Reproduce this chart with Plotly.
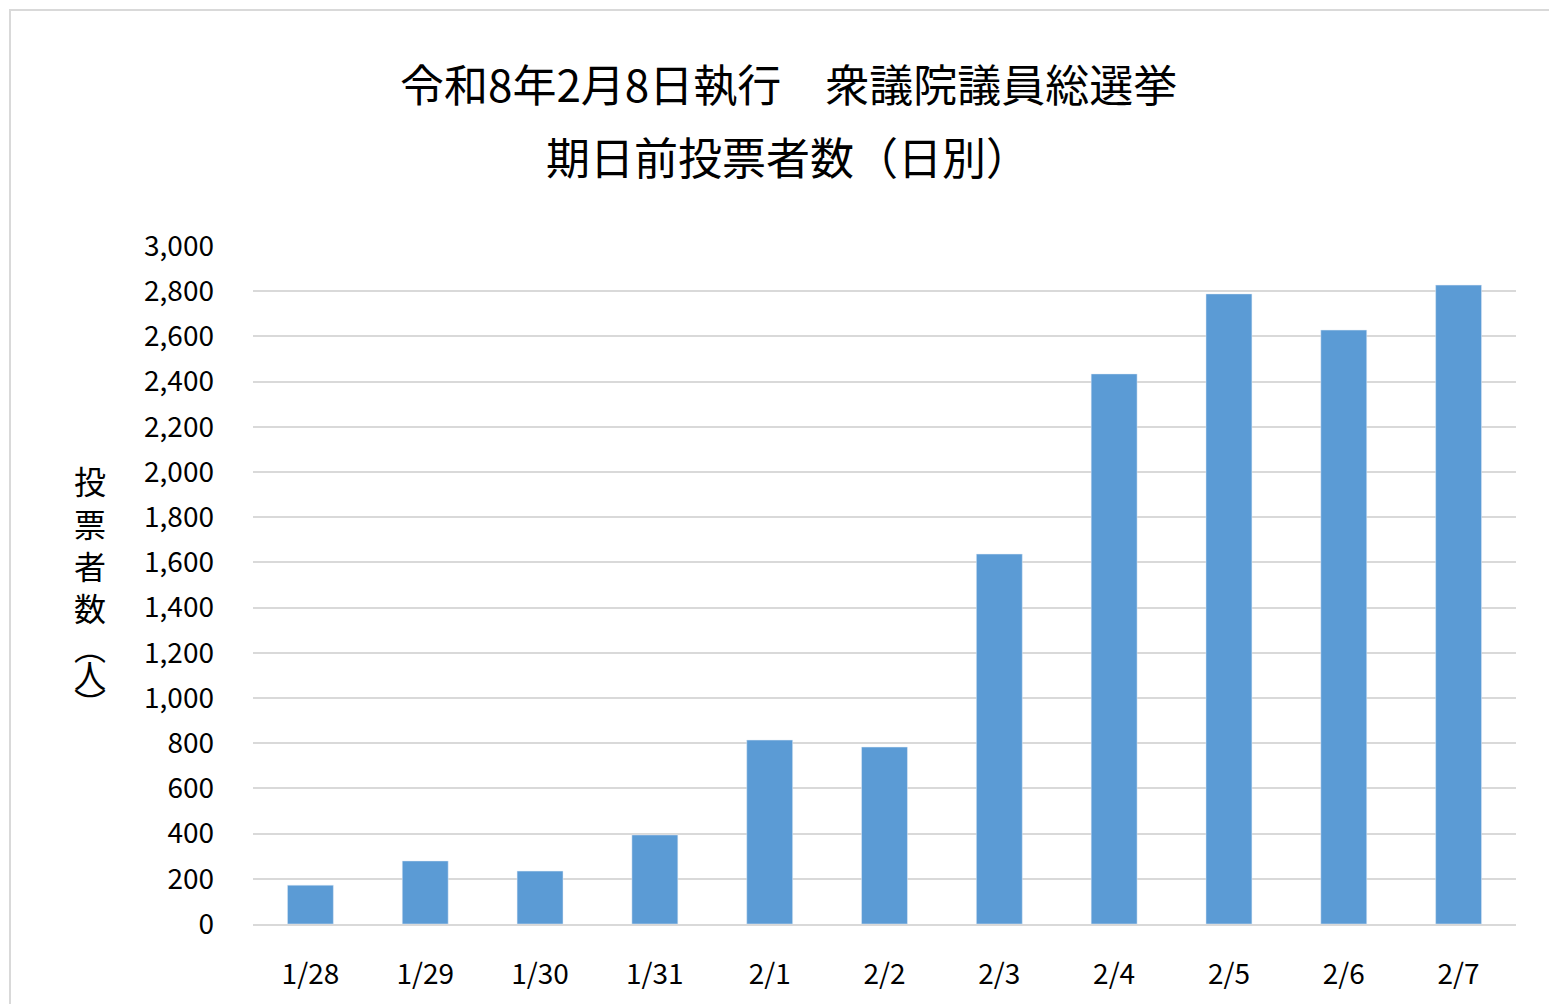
import plotly.graph_objects as go

dates = ["1/28", "1/29", "1/30", "1/31", "2/1", "2/2", "2/3", "2/4", "2/5", "2/6", "2/7"]
voters = [172, 279, 234, 394, 814, 783, 1637, 2434, 2788, 2628, 2827]
tick_vals = list(range(0, 3001, 200))
tick_text = [f"{v:,}" for v in tick_vals]
title_lines = ["令和8年2月8日執行　衆議院議員総選挙", "期日前投票者数（日別）"]
ylabel_chars = ["投", "票", "者", "数", "︵", "人", "︶"]

font = "Noto Sans CJK JP"

fig = go.Figure(go.Bar(x=dates, y=voters, marker_color="#5b9bd5", width=0.4))

# pixel helpers relative to the plot area (245..1508 x, 238..916 y)
def px_x(px):
    return (px - 245) / 1263

def px_y(py):
    return (916 - py) / 678

annotations = []
for text, py in zip(title_lines, [75, 148]):
    annotations.append(dict(text=text, xref="paper", yref="paper", x=px_x(780), y=px_y(py),
                            xanchor="center", yanchor="middle", showarrow=False,
                            font=dict(size=44, family=font)))
for ch, py in zip(ylabel_chars, [472, 515, 557, 599, 638, 666, 694]):
    annotations.append(dict(text=ch, xref="paper", yref="paper", x=px_x(82), y=px_y(py),
                            xanchor="center", yanchor="middle", showarrow=False,
                            font=dict(size=32, family=font)))

fig.update_layout(
    width=1557, height=1004,
    paper_bgcolor="white", plot_bgcolor="white",
    margin=dict(l=245, r=49, t=238, b=88),
    font=dict(family=font, color="#000000", size=27),
    showlegend=False,
    shapes=[dict(type="rect", xref="paper", yref="paper",
                 x0=px_x(2), x1=px_x(1554), y0=px_y(1001), y1=px_y(2),
                 line=dict(color="#d9d9d9", width=2))],
    annotations=annotations,
)
fig.update_xaxes(showline=True, linecolor="#d9d9d9", linewidth=2, ticks="",
                 ticklabelstandoff=24, tickfont=dict(size=28))
fig.update_yaxes(range=[0, 3000], tickvals=tick_vals, ticktext=tick_text,
                 gridcolor="#d9d9d9", gridwidth=2, zeroline=False,
                 ticklabelstandoff=38, tickfont=dict(size=28))

fig.write_html("out.html")
